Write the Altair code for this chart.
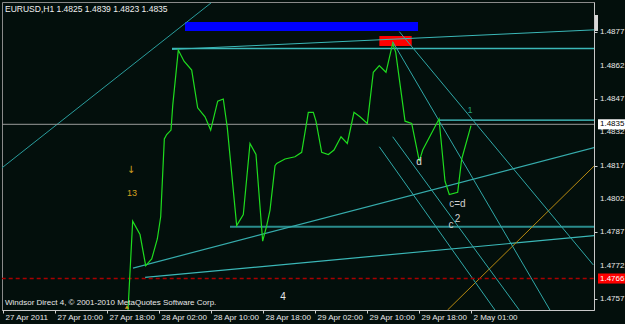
import altair as alt
import pandas as pd

# ---------------- data (x = hours after 27 Apr 02:00, one H1 bar per unit) ----------------
tick_hours = [0, 8, 16, 24, 32, 40, 48, 56, 64, 72]
tick_labels = ["27 Apr 2011", "27 Apr 10:00", "27 Apr 18:00", "28 Apr 02:00", "28 Apr 10:00",
               "28 Apr 18:00", "29 Apr 02:00", "29 Apr 10:00", "29 Apr 18:00", "2 May 01:00"]
price_ticks = [1.4757, 1.4772, 1.4787, 1.4802, 1.4817, 1.4832, 1.4847, 1.4862, 1.4877]
price_tick_labels = ["1.4757", "1.4772", "1.4787", "1.4802", "1.4817", "1.4832", "1.4847",
                     "1.4862", "1.4877"]

close_hours = [19.2, 19.95, 21.08, 21.95, 22.88, 23.74, 24.26, 24.82, 25.18, 25.85, 26.11, 26.97,
               27.85, 29.03, 29.95, 31.08, 31.95, 33.03, 33.89, 34.51, 35.95, 36.97, 38.0, 38.92,
               39.95, 40.57, 41.08, 41.85, 42.11, 43.38, 44.92, 45.95, 46.97, 47.74, 48.15, 49.03,
               50.05, 50.92, 52.0, 52.97, 54.0, 54.92, 56.05, 56.97, 57.89, 58.92, 59.95, 60.42,
               61.85, 62.88, 64.05, 64.57, 67.08, 68.0, 68.66, 69.95, 70.57, 72.0]
close_prices = [1.4750, 1.4792, 1.4786, 1.4772, 1.4775, 1.4784, 1.4794, 1.4829, 1.4831, 1.4833,
                1.4844, 1.4869, 1.4864, 1.4860, 1.4843, 1.4839, 1.4833, 1.4846, 1.4847, 1.4834,
                1.4790, 1.4795, 1.4827, 1.4822, 1.4783, 1.4790, 1.4797, 1.4817, 1.4818, 1.4820,
                1.4821, 1.4823, 1.4841, 1.4841, 1.4837, 1.4823, 1.4822, 1.4824, 1.4830, 1.4827,
                1.4841, 1.4839, 1.4836, 1.4859, 1.4862, 1.4859, 1.4872, 1.4868, 1.4837, 1.4836,
                1.4819, 1.4824, 1.4838, 1.4810, 1.4804, 1.4805, 1.4820, 1.4835]

# trend lines / objects: start hour, start price, end hour, end price
line_names = ["diag", "top_h", "top_rise", "bid", "res_short", "support_h", "mid_rise",
              "low_rise", "stop", "gold", "fan1", "fan2", "fan3", "fan4"]
line_h1 = [-0.2, 26.0, 26.0, -0.2, 67.08, 34.92, 20.0, 21.85, -0.2, 68.38, 60.97, 59.95, 59.95, 57.89]
line_p1 = [1.48159, 1.48697, 1.48693, 1.48356, 1.48375, 1.47895, 1.47709, 1.47667, 1.47662,
           1.47520, 1.48773, 1.48728, 1.48300, 1.48255]
line_h2 = [32.0, 91.0, 91.0, 91.0, 91.0, 91.0, 91.0, 91.0, 91.0, 91.0, 90.82, 84.15, 79.43, 75.69]
line_p2 = [1.48902, 1.48697, 1.48781, 1.48356, 1.48375, 1.47895, 1.48252, 1.47855, 1.47662,
           1.48170, 1.47723, 1.47520, 1.47520, 1.47520]
line_colors = ["#2a9d9d", "#3bb8b8", "#3bb8b8", "#9a9a9a", "#4ad0d0", "#2a8c8c", "#36acac",
               "#3bb8b8", "#a80000", "#b88a10", "#30a8a8", "#30a8a8", "#30a8a8", "#30a8a8"]
line_widths = [1, 1.3, 1, 1, 1.3, 2, 1.2, 1.2, 1.6, 1, 1, 1, 1, 1]
line_dash = [0, 0, 0, 0, 0, 0, 0, 0, 1, 0, 0, 0, 0, 0]

rect_h1 = [28.0, 57.9]
rect_h2 = [63.85, 62.88]
rect_p1 = [1.48816, 1.48753]
rect_p2 = [1.48776, 1.48708]
rect_colors = ["#0000ff", "#ff0000"]

note_texts = ["13", "4", "1", "d", "c=d", "c", "2"]
note_h = [19.85, 43.08, 71.85, 64.0, 69.9, 68.92, 69.92]
note_p = [1.48047, 1.47579, 1.48420, 1.48186, 1.47997, 1.47903, 1.47930]
note_colors = ["#d4a020", "#e8e8e8", "#22a07a", "#e0e0e0", "#d0d0d0", "#d0d0d0", "#d0d0d0"]
note_sizes = [9, 10, 9, 10, 10, 10, 10]

arrow_texts = ["↓"]
arrow_h = [19.7]
arrow_p = [1.48150]

marker_h = [19.08]
marker_p = [1.47534]

box_prices = [1.48356, 1.47662]
box_texts = ["1.4835", "1.4766"]
box_fill = ["#ffffff", "#ff0000"]
box_text_color = ["#000000", "#ffffff"]

title_text = "EURUSD,H1  1.4825 1.4839 1.4823 1.4835"
footer_text = "Windsor Direct 4, © 2001-2010 MetaQuotes Software Corp."

# ---------------- frames ----------------
closes = pd.DataFrame({"h": close_hours, "p": close_prices})
lines = pd.DataFrame({"name": line_names, "h1": line_h1, "p1": line_p1, "h2": line_h2,
                      "p2": line_p2, "color": line_colors, "w": line_widths, "dash": line_dash})
rects = pd.DataFrame({"h1": rect_h1, "h2": rect_h2, "p1": rect_p1, "p2": rect_p2, "color": rect_colors})
notes = pd.DataFrame({"t": note_texts, "h": note_h, "p": note_p, "color": note_colors, "s": note_sizes})
arrows = pd.DataFrame({"t": arrow_texts, "h": arrow_h, "p": arrow_p})
markers = pd.DataFrame({"h": marker_h, "p": marker_p})
boxes = pd.DataFrame({"p": box_prices, "t": box_texts, "fill": box_fill, "tc": box_text_color})
yticks = pd.DataFrame({"p": price_ticks, "t": price_tick_labels})
single = pd.DataFrame({"title": [title_text], "footer": [footer_text]})

BG = "#030f0c"
FONT = "Liberation Sans"
X_DOMAIN = [-1 / 6.5, 591 / 6.5]
Y_DOMAIN = [1.4752035, 1.4890635]

label_expr = "[" + ",".join("'" + s + "'" for s in tick_labels) + "][round(datum.value / 8)]"

xs = alt.Scale(domain=X_DOMAIN, nice=False, zero=False)
ys = alt.Scale(domain=Y_DOMAIN, nice=False, zero=False)

x_axis = alt.Axis(values=tick_hours, labelExpr=label_expr, labelAlign="left", labelBaseline="top",
                  labelOffset=2, labelPadding=0, tickSize=3, labelFont=FONT, labelFontSize=8,
                  labelColor="#e8e8e8", tickColor="#d0d0d0", domainColor="#c8c8c8", grid=False,
                  title=None, labelOverlap=False, labelFlush=False, labelBound=False)
y_axis = alt.Axis(orient="right", values=price_ticks, labels=False, tickSize=3,
                  tickColor="#d0d0d0", domainColor="#c8c8c8", grid=False, title=None)

base_axes = alt.Chart(closes).mark_line(opacity=0).encode(
    x=alt.X("h:Q", scale=xs, axis=x_axis),
    y=alt.Y("p:Q", scale=ys, axis=y_axis),
)

ytick_labels = alt.Chart(yticks).mark_text(
    font=FONT, fontSize=8, align="left", baseline="middle", color="#e8e8e8").encode(
    x=alt.value(598), y=alt.Y("p:Q", scale=ys), text="t:N")

rect_layer = alt.Chart(rects).mark_rect(clip=True).encode(
    x=alt.X("h1:Q", scale=xs), x2="h2:Q",
    y=alt.Y("p1:Q", scale=ys), y2="p2:Q",
    color=alt.Color("color:N", scale=None),
)

solid_lines = alt.Chart(lines).transform_filter("datum.dash == 0").mark_rule(clip=True).encode(
    x=alt.X("h1:Q", scale=xs), x2="h2:Q",
    y=alt.Y("p1:Q", scale=ys), y2="p2:Q",
    color=alt.Color("color:N", scale=None),
    size=alt.Size("w:Q", scale=None),
)
dashed_lines = alt.Chart(lines).transform_filter("datum.dash == 1").mark_rule(
    clip=True, strokeDash=[4, 3]).encode(
    x=alt.X("h1:Q", scale=xs), x2="h2:Q",
    y=alt.Y("p1:Q", scale=ys), y2="p2:Q",
    color=alt.Color("color:N", scale=None),
    size=alt.Size("w:Q", scale=None),
)

price_line = alt.Chart(closes).mark_line(clip=True, color="#1fdc1f", strokeWidth=1.2).encode(
    x=alt.X("h:Q", scale=xs), y=alt.Y("p:Q", scale=ys),
)

note_layer = alt.Chart(notes).mark_text(font=FONT, align="center", baseline="middle").encode(
    x=alt.X("h:Q", scale=xs), y=alt.Y("p:Q", scale=ys), text="t:N",
    color=alt.Color("color:N", scale=None),
    size=alt.Size("s:Q", scale=None),
)

arrow_layer = alt.Chart(arrows).mark_text(
    font="DejaVu Sans", fontSize=10, align="center", baseline="middle", color="#d4a020").encode(
    x=alt.X("h:Q", scale=xs), y=alt.Y("p:Q", scale=ys), text="t:N")

marker_layer = alt.Chart(markers).mark_point(
    shape="triangle-up", filled=True, size=18, color="#c8a020", opacity=1).encode(
    x=alt.X("h:Q", scale=xs), y=alt.Y("p:Q", scale=ys))

box_layer = alt.Chart(boxes).mark_point(
    shape="M-1,-0.36L1,-0.36L1,0.36L-1,0.36Z", filled=True, size=784, opacity=1, strokeWidth=0
).encode(
    x=alt.value(610), y=alt.Y("p:Q", scale=ys),
    color=alt.Color("fill:N", scale=None),
)
box_text = alt.Chart(boxes).mark_text(font=FONT, fontSize=8, align="left", baseline="middle").encode(
    x=alt.value(598), y=alt.Y("p:Q", scale=ys), text="t:N",
    color=alt.Color("tc:N", scale=None),
)

shift_marker = alt.Chart(single).mark_rect(color="#d8d8d8").encode(
    x=alt.value(593), x2=alt.value(596), y=alt.value(13), y2=alt.value(29))

title_layer = alt.Chart(single).mark_text(
    font=FONT, fontSize=8.5, align="left", baseline="middle", color="#f0f0f0").encode(
    x=alt.value(3), y=alt.value(7), text="title:N")
footer_layer = alt.Chart(single).mark_text(
    font=FONT, fontSize=8, align="left", baseline="middle", color="#e8e8e8").encode(
    x=alt.value(3), y=alt.value(301), text="footer:N")

chart = alt.layer(
    base_axes, rect_layer, solid_lines, dashed_lines, price_line, note_layer, arrow_layer,
    marker_layer, title_layer, footer_layer, shift_marker, ytick_labels, box_layer, box_text,
).properties(
    width=592, height=308,
    padding={"left": 2, "top": 2, "right": 31, "bottom": 14},
    autosize=alt.AutoSizeParams(type="none"),
    background=BG,
).configure_view(stroke="#8a8a8a", strokeWidth=1, fill=BG)

chart.save("out.html", embed_options={"renderer": "svg", "actions": False})
